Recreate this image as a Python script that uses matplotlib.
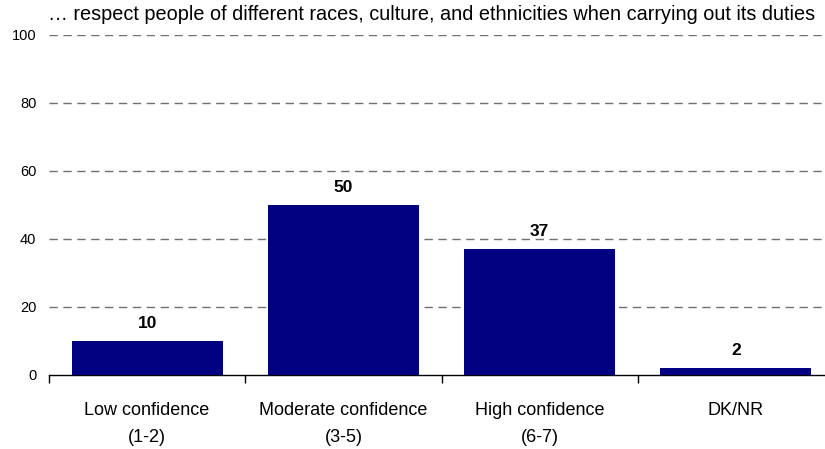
import matplotlib
matplotlib.use("Agg")
import matplotlib.pyplot as plt
import numpy as np

categories = ["Low confidence\n(1-2)", "Moderate confidence\n(3-5)", "High confidence\n(6-7)", "DK/NR"]
values = [10, 50, 37, 2]
yticks = [0, 20, 40, 60, 80, 100]
title = "\u2026 respect people of different races, culture, and ethnicities when carrying out its duties"

plt.rcParams["font.family"] = ["Liberation Sans", "DejaVu Sans"]

W, H = 825, 449
fig = plt.figure(figsize=(W / 100, H / 100), dpi=100)
left, right, bottom, top = 49, 834, 74, 414
ax = fig.add_axes([left / W, bottom / H, (right - left) / W, (top - bottom) / H])

x = np.arange(len(values))
bar_color = "#000080"
ax.bar(x, values, width=0.77, color=bar_color, zorder=3)

ax.set_xlim(-0.5, len(values) - 0.5)
ax.set_ylim(0, 100)
ax.set_yticks(yticks)
ax.set_yticklabels([str(t) for t in yticks], fontsize=10.5)
ax.tick_params(axis="y", length=0, pad=9)

for yv in yticks[1:]:
    ax.axhline(yv, color="#707070", linestyle=(0, (6, 4)), linewidth=1.0, zorder=1)

ax.set_xticks(np.arange(-0.5, len(values), 1.0))
ax.set_xticklabels([])
ax.tick_params(axis="x", length=6, width=1, color="black", direction="out")
for i, lab in enumerate(categories):
    ax.text(i, -8.0, lab, ha="center", va="top", fontsize=13, linespacing=1.75)

for s in ["left", "right", "top"]:
    ax.spines[s].set_visible(False)
ax.spines["bottom"].set_color("black")
ax.spines["bottom"].set_linewidth(1)

for i, v in enumerate(values):
    ax.text(i, v + 3.0, str(v), ha="center", va="bottom", fontsize=12.5, fontweight="bold")

fig.text(48 / W, 1 - 15 / H, title, ha="left", va="center", fontsize=14.3)

fig.savefig("out.png", dpi=100)
